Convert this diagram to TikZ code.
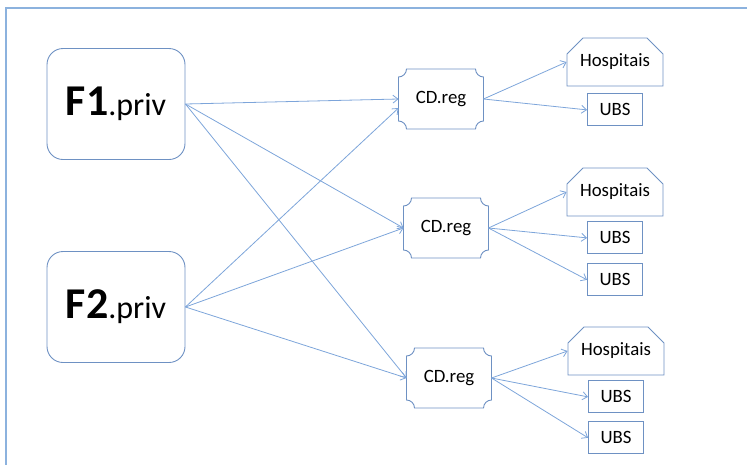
\documentclass[tikz,border=0pt]{standalone}
\usepackage{fontspec}
\setmainfont{Carlito}
\usetikzlibrary{arrows.meta,positioning,shapes.misc}
\definecolor{boxblue}{RGB}{110,145,195}
\definecolor{lineblue}{RGB}{125,165,218}
\definecolor{frameblue}{RGB}{140,178,222}

\begin{document}
\begin{tikzpicture}[
  x=1pt, y=1pt,
  >={Straight Barb[length=5pt,width=8pt]},
  node distance=6pt,
  fonte/.style={draw=boxblue, line width=0.9pt, rounded corners=16pt, minimum width=138pt, minimum height=111pt, inner sep=0pt},
  regional/.style={minimum width=85pt, minimum height=60pt, inner sep=0pt, outer sep=0pt, font=\fontsize{18.8}{20}\selectfont},
  hosp/.style={draw=boxblue, line width=0.9pt, chamfered rectangle, chamfered rectangle corners={north west,north east}, chamfered rectangle xsep=8pt, chamfered rectangle ysep=8pt, minimum width=96pt, minimum height=48pt, inner sep=0pt, font=\fontsize{18.8}{20}\selectfont},
  ubs/.style={draw=boxblue, line width=0.9pt, minimum width=55pt, minimum height=32pt, inner sep=0pt, font=\fontsize{18.8}{20}\selectfont},
  borda/.style={draw=boxblue, line width=0.9pt},
  seta/.style={->, draw=lineblue, line width=0.8pt}
]
\useasboundingbox (0,0) rectangle (747,-464);
\draw[frameblue, line width=2pt] (6,-8) rectangle (780,-490);

% fontes
\node[fonte] (f1) at (116,-104) {{\fontsize{44}{44}\selectfont\bfseries F1}{\fontsize{32}{32}\selectfont.priv}};
\node[fonte] (f2) at (116,-307) {{\fontsize{44}{44}\selectfont\bfseries F2}{\fontsize{32}{32}\selectfont.priv}};

% centros de distribuicao
\node[regional] (cd1) at (441,-99) {CD.reg};
\node[regional] (cd2) at (446,-228) {CD.reg};
\node[regional] (cd3) at (449,-378) {CD.reg};
\foreach \n in {cd1,cd2,cd3}
  \draw[borda] ([xshift=8pt]\n.north west) -- ([xshift=-8pt]\n.north east)
    arc[start angle=180, end angle=270, radius=8pt] -- ([yshift=8pt]\n.south east)
    arc[start angle=90, end angle=180, radius=8pt] -- ([xshift=8pt]\n.south west)
    arc[start angle=0, end angle=90, radius=8pt] -- ([yshift=-8pt]\n.north west)
    arc[start angle=270, end angle=360, radius=8pt] -- cycle;

% destinos
\node[hosp] (hosp1) at (615,-62) {Hospitais};
\node[ubs, below=7pt of hosp1] (ubs1) {UBS};
\node[hosp] (hosp2) at (615,-192) {Hospitais};
\node[ubs, below=5pt of hosp2] (ubs2a) {UBS};
\node[ubs, below=9pt of ubs2a] (ubs2b) {UBS};
\node[hosp] (hosp3) at (616,-351) {Hospitais};
\node[ubs, below=5pt of hosp3] (ubs3a) {UBS};
\node[ubs, below=8pt of ubs3a] (ubs3b) {UBS};

\draw[seta] (f1.east) -- (cd1.west);
\draw[seta] (f1.east) -- (cd2.west);
\draw[seta] (f1.east) -- (cd3.west);
\draw[seta] (f2.east) -- ([yshift=-9pt]cd1.west);
\draw[seta] (f2.east) -- (cd2.west);
\draw[seta] (f2.east) -- (cd3.west);

\draw[seta] (cd1.east) -- (hosp1.west);
\draw[seta] (cd1.east) -- (ubs1.west);
\draw[seta] (cd2.east) -- (hosp2.west);
\draw[seta] (cd2.east) -- (ubs2a.west);
\draw[seta] (cd2.east) -- (ubs2b.west);
\draw[seta] (cd3.east) -- (hosp3.west);
\draw[seta] (cd3.east) -- (ubs3a.west);
\draw[seta] (cd3.east) -- (ubs3b.west);
\end{tikzpicture}
\end{document}
